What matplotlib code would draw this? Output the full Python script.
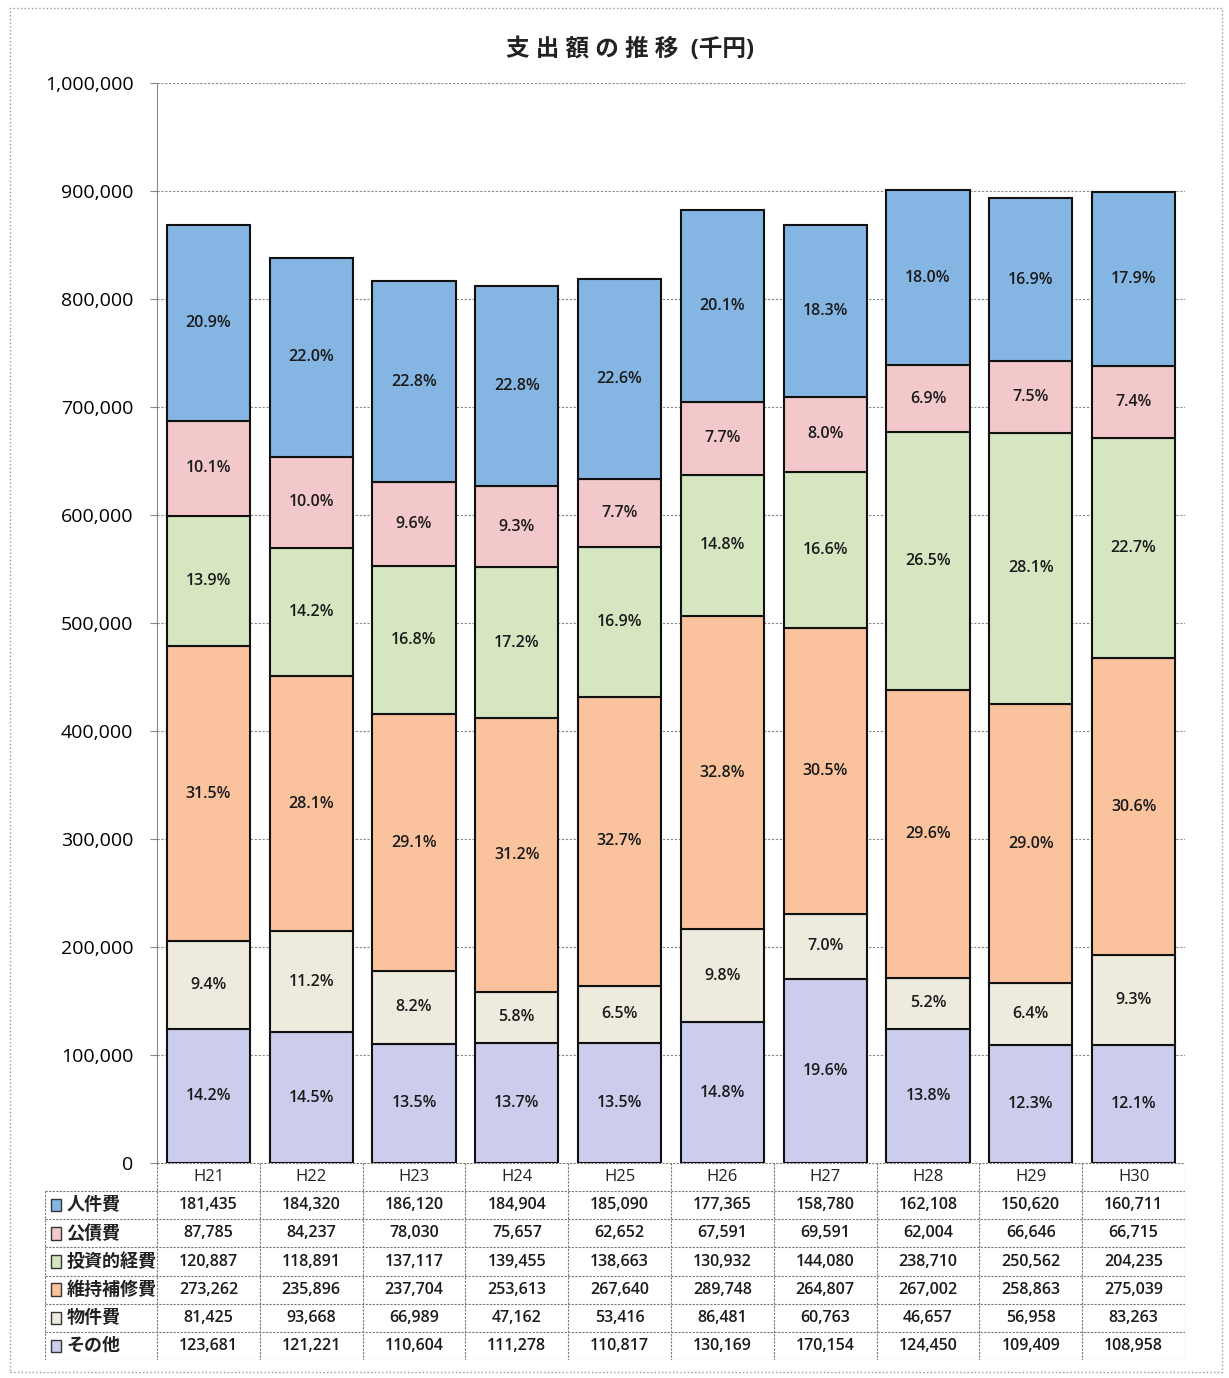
import numpy as np
import matplotlib
matplotlib.use('Agg')
import matplotlib.pyplot as plt
from matplotlib.patches import Rectangle

plt.rcParams['font.family'] = ['Open Sans', 'Noto Sans CJK JP', 'DejaVu Sans']

# 年度と費目別の支出額（千円）
years = ['H21', 'H22', 'H23', 'H24', 'H25', 'H26', 'H27', 'H28', 'H29', 'H30']
jinkenhi = [181435, 184320, 186120, 184904, 185090, 177365, 158780, 162108, 150620, 160711]
kousaihi = [87785, 84237, 78030, 75657, 62652, 67591, 69591, 62004, 66646, 66715]
toushi = [120887, 118891, 137117, 139455, 138663, 130932, 144080, 238710, 250562, 204235]
iji = [273262, 235896, 237704, 253613, 267640, 289748, 264807, 267002, 258863, 275039]
bukken = [81425, 93668, 66989, 47162, 53416, 86481, 60763, 46657, 56958, 83263]
sonota = [123681, 121221, 110604, 111278, 110817, 130169, 170154, 124450, 109409, 108958]

# 表の並び（上から）
names = ['人件費', '公債費', '投資的経費', '維持補修費', '物件費', 'その他']
series = [jinkenhi, kousaihi, toushi, iji, bukken, sonota]
colors = ['#85b5e2', '#f2c8cb', '#d5e6c1', '#fac39e', '#eeeade', '#cccdec']

fig = plt.figure(figsize=(12.29, 13.78), dpi=100)

# 外枠
fig.patches.append(Rectangle((10 / 1229, 6 / 1378), 1212 / 1229, 1364 / 1378,
                             transform=fig.transFigure, fill=False,
                             edgecolor='#999999', linewidth=1, linestyle=':'))

ax = fig.add_axes([157 / 1229, 215 / 1378, 1028 / 1229, 1080 / 1378])
x = np.arange(len(years))
data = np.array(series, dtype=float)
totals = data.sum(axis=0)

# 下から積み上げ
bottom = np.zeros(len(years))
for i in range(len(series) - 1, -1, -1):
    vals = data[i]
    ax.bar(x, vals, width=0.81, bottom=bottom, color=colors[i],
           edgecolor='#111111', linewidth=1.5, zorder=3)
    for j in range(len(years)):
        pct = vals[j] / totals[j] * 100
        ax.text(x[j], bottom[j] + vals[j] / 2, f'{pct:.1f}%', ha='center', va='center',
                fontsize=11.5, color='#1a1a1a', fontweight='semibold', zorder=4)
    bottom += vals

ax.set_xlim(-0.5, len(years) - 0.5)
ax.set_ylim(0, 1000000)
ax.set_yticks(np.arange(0, 1000001, 100000))
ax.set_yticklabels([f'{v:,}' for v in range(0, 1000001, 100000)], fontsize=14)
ax.set_xticks([])
ax.yaxis.grid(True, color='#888888', linestyle=(0, (2, 1.5)), linewidth=0.8, zorder=0)
ax.tick_params(axis='y', length=5, color='#888888', pad=12)
for s in ['top', 'right', 'bottom']:
    ax.spines[s].set_visible(False)
ax.spines['left'].set_color('#888888')

fig.text(630 / 1229, 1 - 50 / 1378, '支 出 額 の 推 移  (千円)', ha='center', va='center',
         fontsize=17, fontweight='bold', color='#222222')

# データ表
tab = fig.add_axes([45 / 1229, 18 / 1378, 1140 / 1229, 197 / 1378])
label_w = 1.09
tab.set_xlim(-0.5 - label_w, len(years) - 0.5)
tab.set_ylim(len(names) + 1, 0)
tab.axis('off')

line_kw = dict(color='#777777', linewidth=0.8, linestyle=(0, (2, 1.2)))
left = -0.5 - label_w
right = len(years) - 0.5
# 横線
tab.plot([-0.5, right], [0, 0], **line_kw)
for r in range(1, len(names) + 2):
    tab.plot([left, right], [r, r], **line_kw)
# 縦線
tab.plot([left, left], [1, len(names) + 1], **line_kw)
for c in range(len(years) + 1):
    tab.plot([c - 0.5, c - 0.5], [0, len(names) + 1], **line_kw)

for j, yr in enumerate(years):
    tab.text(j, 0.5, yr, ha='center', va='center', fontsize=12, color='#222222')
for i, name in enumerate(names):
    tab.add_patch(Rectangle((left + 0.06, i + 1.28), 0.1, 0.44, facecolor=colors[i],
                            edgecolor='#333333', linewidth=1))
    tab.text(left + 0.21, i + 1.5, name, ha='left', va='center', fontsize=13,
             color='#222222', fontweight='bold')
    for j in range(len(years)):
        tab.text(j, i + 1.5, f'{series[i][j]:,}', ha='center', va='center',
                 fontsize=11.5, color='#1a1a1a', fontweight='semibold')

fig.savefig('out.png', dpi=100)
